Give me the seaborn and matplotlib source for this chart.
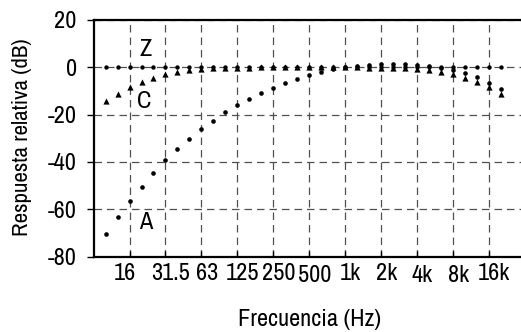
import matplotlib
matplotlib.use("Agg")
import matplotlib.pyplot as plt
import seaborn as sns
import pandas as pd
import numpy as np
from matplotlib import font_manager as fm
from matplotlib.transforms import ScaledTranslation

# ---- data (1/3-octave bands, 10 Hz .. 20 kHz) ----
band_labels = ["10", "12.5", "16", "20", "25", "31.5", "40", "50", "63", "80",
               "100", "125", "160", "200", "250", "315", "400", "500", "630", "800",
               "1k", "1.25k", "1.6k", "2k", "2.5k", "3.15k", "4k", "5k", "6.3k", "8k",
               "10k", "12.5k", "16k", "20k"]
a_weight = [-70.4, -63.4, -56.7, -50.5, -44.7, -39.4, -34.6, -30.2, -26.2, -22.5,
            -19.1, -16.1, -13.4, -10.9, -8.6, -6.6, -4.8, -3.2, -1.9, -0.8,
            0.0, 0.6, 1.0, 1.2, 1.3, 1.2, 1.0, 0.5, -0.1, -1.1,
            -2.5, -4.3, -6.6, -9.3]
c_weight = [-14.3, -11.2, -8.5, -6.2, -4.4, -3.0, -2.0, -1.3, -0.8, -0.5,
            -0.3, -0.2, -0.1, 0.0, 0.0, 0.0, 0.0, 0.0, 0.0, 0.0,
            0.0, 0.0, -0.1, -0.2, -0.3, -0.5, -0.8, -1.3, -2.0, -3.0,
            -4.4, -6.2, -8.5, -11.2]
z_weight = [0.0] * 34
tick_labels = ["16", "31.5", "63", "125", "250", "500", "1k", "2k", "4k", "8k", "16k"]
y_ticks = [20, 0, -20, -40, -60, -80]

pos = np.arange(len(band_labels))
df = pd.DataFrame({"pos": pos, "band": band_labels,
                   "A": a_weight, "C": c_weight, "Z": z_weight})

# ---- style ----
sns.set_theme(style="ticks")
names = {f.name for f in fm.fontManager.ttflist}
family = "Liberation Sans"
for cand in ["Arial Narrow", "Liberation Sans Narrow", "Archivo Narrow"]:
    if cand in names:
        family = cand
        break
plt.rcParams["font.family"] = [family, "DejaVu Sans"]
fs = 14 if family == "Liberation Sans" else 17.5
fs_y = 14 if family == "Liberation Sans" else 16.5

W, H = 521, 332
fig = plt.figure(figsize=(W / 100, H / 100), dpi=100)
ax = fig.add_axes([94 / W, 1 - 256.5 / H, (W - 94) / W, (256.5 - 20) / H])

sns.scatterplot(data=df, x="pos", y="Z", ax=ax, color="black", marker="o",
                s=10, linewidth=0, zorder=3)
sns.scatterplot(data=df, x="pos", y="A", ax=ax, color="black", marker="o",
                s=11, linewidth=0, zorder=3)
sns.scatterplot(data=df, x="pos", y="C", ax=ax, color="black", marker="^",
                s=20, linewidth=0, zorder=4)

ax.set_xlim(-0.97, 34.7)
ax.set_ylim(-80, 20)
tick_pos = [band_labels.index(t) for t in tick_labels]
ax.set_xticks(tick_pos)
ax.set_xticklabels(tick_labels, fontsize=fs)
ax.set_yticks(y_ticks)
ax.set_yticklabels([str(v) for v in y_ticks], fontsize=fs)

ax.grid(True, color="#505050", linestyle=(0, (6, 4)), linewidth=0.9)
ax.set_axisbelow(True)
for side in ["top", "left", "bottom"]:
    ax.spines[side].set_visible(True)
    ax.spines[side].set_color("black")
    ax.spines[side].set_linewidth(1.6)
ax.spines["right"].set_visible(False)

ax.tick_params(axis="y", direction="out", length=5, width=1, pad=7.5,
               left=True, colors="black")
ax.tick_params(axis="x", direction="in", length=4, width=1, pad=5,
               bottom=True, colors="black")

# small per-label offsets as in the reference
dx_px = [-5, 5.5, 5.5, 5.2, 5.1, 5.8, 5.4, 5.3, 5.0, 6.0, 5.6]
dy_px = [0, 0, 0, 0, 0, 2, 0, 0, 2, 2, 0]
for lab, dx, dy in zip(ax.get_xticklabels(), dx_px, dy_px):
    lab.set_transform(lab.get_transform() +
                      ScaledTranslation(dx / 100, -dy / 100, fig.dpi_scale_trans))

ax.set_xlabel("Frecuencia (Hz)", fontsize=fs, color="black")
ax.set_ylabel("Respuesta relativa (dB)", fontsize=fs_y, color="black")
ax.xaxis.label.set_va("center")
ax.yaxis.label.set_va("center")
ax.xaxis.set_label_coords((310 - 94) / (W - 94), (256.5 - 319) / 236.5)
ax.yaxis.set_label_coords((21.7 - 94) / (W - 94), (256.5 - 137) / 236.5)

for txt, xx, yy in [("Z", 3.36, 7.7), ("C", 3.2, -14.5), ("A", 3.34, -65.6)]:
    ax.text(xx, yy, txt, fontsize=fs, ha="center", va="center", color="black")

fig.savefig("out.png", dpi=100)
